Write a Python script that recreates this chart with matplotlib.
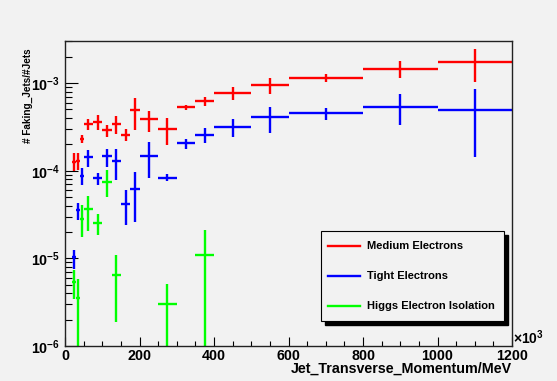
import matplotlib
matplotlib.use("Agg")
import matplotlib.pyplot as plt
import matplotlib.ticker as ticker
from matplotlib.lines import Line2D
from matplotlib.patches import Rectangle
import numpy as np

plt.rcParams['font.family'] = ['Liberation Sans', 'DejaVu Sans']
plt.rcParams['font.weight'] = 'bold'
plt.rcParams['mathtext.fontset'] = 'custom'
plt.rcParams['mathtext.rm'] = 'Liberation Sans:bold'
plt.rcParams['mathtext.bf'] = 'Liberation Sans:bold'

# bin edges in units of 10^3 MeV
bin_edges = [20, 30, 40, 50, 75, 100, 125, 150, 175, 200, 250, 300, 350, 400, 500, 600, 800, 1000, 1200]

series_names = ['Medium Electrons', 'Tight Electrons', 'Higgs Electron Isolation']
series_colors = ['#ff0000', '#0000ff', '#00ff00']

# Medium electrons (all bins)
medium_y = [1.26e-4, 1.30e-4, 2.33e-4, 3.37e-4, 3.61e-4, 2.90e-4, 3.40e-4, 2.55e-4, 4.90e-4,
            3.85e-4, 3.03e-4, 5.27e-4, 6.28e-4, 7.62e-4, 9.40e-4, 1.15e-3, 1.45e-3, 1.74e-3]
medium_lo = [1.00e-4, 1.02e-4, 2.09e-4, 2.90e-4, 2.90e-4, 2.43e-4, 2.61e-4, 2.17e-4, 2.90e-4,
             2.75e-4, 1.95e-4, 4.90e-4, 5.46e-4, 6.40e-4, 7.43e-4, 1.04e-3, 1.13e-3, 1.04e-3]
medium_hi = [1.58e-4, 1.60e-4, 2.58e-4, 3.88e-4, 4.30e-4, 3.31e-4, 4.20e-4, 3.03e-4, 6.70e-4,
             4.79e-4, 3.98e-4, 5.60e-4, 6.97e-4, 9.10e-4, 1.13e-3, 1.27e-3, 1.80e-3, 2.43e-3]

# Tight electrons (all bins)
tight_y = [1.03e-5, 3.54e-5, 8.65e-5, 1.44e-4, 8.27e-5, 1.47e-4, 1.29e-4, 4.20e-5, 6.14e-5,
           1.47e-4, 8.36e-5, 2.05e-4, 2.55e-4, 3.14e-4, 4.05e-4, 4.54e-4, 5.35e-4, 4.91e-4]
tight_lo = [7.55e-6, 2.77e-5, 6.80e-5, 1.10e-4, 6.80e-5, 1.10e-4, 7.80e-5, 2.38e-5, 2.60e-5,
            8.15e-5, 7.60e-5, 1.75e-4, 2.05e-4, 2.43e-4, 2.70e-4, 3.78e-4, 3.31e-4, 1.42e-4]
tight_hi = [1.26e-5, 4.29e-5, 1.06e-4, 1.71e-4, 9.36e-5, 1.79e-4, 1.79e-4, 5.98e-5, 9.70e-5,
            2.13e-4, 9.10e-5, 2.33e-4, 3.08e-4, 3.85e-4, 5.36e-4, 5.22e-4, 7.43e-4, 8.47e-4]

# Higgs isolation (only non-empty bins)
higgs_bins = [0, 1, 2, 3, 4, 5, 6, 10, 12]
higgs_y = [5.36e-6, 3.52e-6, 2.84e-5, 3.63e-5, 2.56e-5, 7.45e-5, 6.40e-6, 3.03e-6, 1.08e-5]
higgs_lo = [3.46e-6, 1e-7, 1.75e-5, 2.05e-5, 1.83e-5, 5.00e-5, 1.87e-6, 1e-7, 1e-7]
higgs_hi = [7.30e-6, 5.86e-6, 4.03e-5, 5.10e-5, 3.24e-5, 1.01e-4, 1.08e-5, 5.14e-6, 2.13e-5]

edges = np.array(bin_edges, dtype=float)
centers = 0.5 * (edges[1:] + edges[:-1])
halfw = 0.5 * (edges[1:] - edges[:-1])

bg = '#f2f2f2'
fig = plt.figure(figsize=(5.57, 3.81), dpi=100, facecolor=bg)
ax = fig.add_axes([65 / 557, 1 - 346 / 381, 447 / 557, 305 / 381], facecolor=bg)


def draw(idx, y, lo, hi, color):
    y = np.array(y)
    yerr = [y - np.array(lo), np.array(hi) - y]
    ax.errorbar(centers[idx], y, xerr=halfw[idx], yerr=yerr, fmt='none',
                ecolor=color, elinewidth=1.7, capsize=0)


all_bins = np.arange(len(centers))
draw(all_bins, medium_y, medium_lo, medium_hi, series_colors[0])
draw(all_bins, tight_y, tight_lo, tight_hi, series_colors[1])
draw(np.array(higgs_bins), higgs_y, higgs_lo, higgs_hi, series_colors[2])

ax.set_yscale('log')
ax.set_xlim(0, 1200)
ax.set_ylim(1e-6, 3.02e-3)

ax.xaxis.set_major_locator(ticker.MultipleLocator(200))
ax.xaxis.set_minor_locator(ticker.MultipleLocator(50))
ax.yaxis.set_major_locator(ticker.LogLocator(base=10))
ax.yaxis.set_minor_locator(ticker.LogLocator(base=10, subs=np.arange(2, 10)))
ax.yaxis.set_minor_formatter(ticker.NullFormatter())

ax.tick_params(axis='x', which='major', direction='in', length=6.5, width=0.8, pad=2, labelsize=10.3)
ax.tick_params(axis='x', which='minor', direction='in', length=3.3, width=0.8)
ax.tick_params(axis='y', which='major', direction='in', length=9.5, width=0.8, pad=3.5, labelsize=10.3)
ax.tick_params(axis='y', which='minor', direction='in', length=4.8, width=0.8)
ax.tick_params(top=False, right=False, which='both')
for s in ax.spines.values():
    s.set_color('#222222')
    s.set_linewidth(1.0)

ax.set_xlabel('Jet_Transverse_Momentum/MeV', fontsize=10.3, fontweight='bold', ha='right', va='top')
ax.xaxis.set_label_coords(1.0, -0.052)
ax.set_ylabel('# Faking_Jets/#Jets', fontsize=7.2, fontweight='bold', loc='top')
ax.yaxis.set_label_coords(-0.072, 0.975)

ax.text(1.002, 0.028, r'$\times$10$^{\mathbf{3}}$', transform=ax.transAxes, ha='left', va='center',
        fontsize=10, fontweight='bold')

# legend box drawn in ROOT style
W, H = 557.0, 381.0
box_l, box_t, box_r, box_b = 321, 231, 504, 321
fig.add_artist(Rectangle(((box_l + 4) / W, 1 - (box_b + 4) / H), (box_r - box_l) / W, (box_b - box_t) / H,
                         transform=fig.transFigure, facecolor='black', edgecolor='black'))
fig.add_artist(Rectangle((box_l / W, 1 - box_b / H), (box_r - box_l) / W, (box_b - box_t) / H,
                         transform=fig.transFigure, facecolor=bg, edgecolor='black', linewidth=0.8))
entry_y = [245.7, 275.7, 306.0]
for name, col, ey in zip(series_names, series_colors, entry_y):
    fig.add_artist(Line2D([328 / W, 360 / W], [1 - ey / H, 1 - ey / H], transform=fig.transFigure,
                          color=col, linewidth=1.7))
    fig.text(367 / W, 1 - ey / H, name, fontsize=8, fontweight='bold', ha='left', va='center')

fig.savefig('out.png', dpi=100, facecolor=bg)
